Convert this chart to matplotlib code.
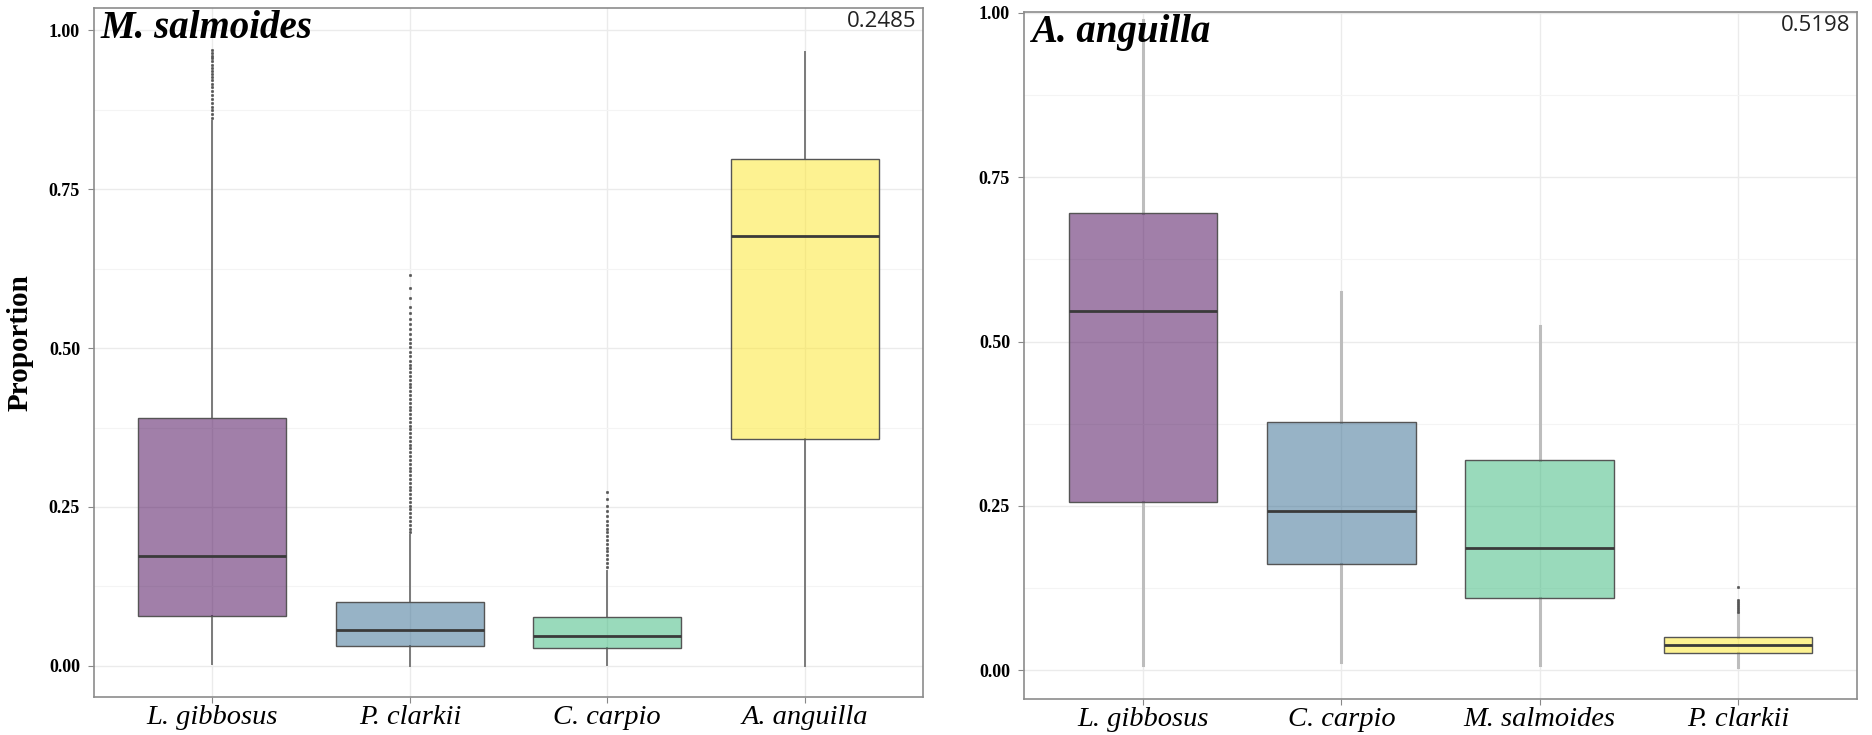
import matplotlib
matplotlib.use("Agg")
import matplotlib.pyplot as plt
from matplotlib.colors import to_rgba
from matplotlib.ticker import FixedLocator

# ---------------- data ----------------
left_title = "M. salmoides"
left_stat = "0.2485"
left_cats = ["L. gibbosus", "P. clarkii", "C. carpio", "A. anguilla"]
left_q1 = [0.079, 0.031, 0.028, 0.357]
left_med = [0.173, 0.056, 0.047, 0.676]
left_q3 = [0.390, 0.101, 0.077, 0.797]
left_lo = [0.003, 0.000, 0.002, 0.000]
left_hi = [0.857, 0.206, 0.150, 0.965]
left_out_gibbosus = [0.862, 0.868, 0.874, 0.880, 0.886, 0.892, 0.898, 0.904, 0.910,
                     0.916, 0.921, 0.926, 0.931, 0.936, 0.941, 0.946, 0.951, 0.956,
                     0.960, 0.964, 0.969]
left_out_clarkii = [0.210, 0.216, 0.222, 0.228, 0.234, 0.240, 0.246, 0.252, 0.258,
                    0.264, 0.270, 0.276, 0.282, 0.288, 0.294, 0.300, 0.306, 0.312,
                    0.318, 0.324, 0.330, 0.336, 0.342, 0.348, 0.354, 0.360, 0.366,
                    0.372, 0.378, 0.384, 0.390, 0.396, 0.402, 0.408, 0.414, 0.420,
                    0.426, 0.432, 0.438, 0.444, 0.450, 0.456, 0.462, 0.468, 0.474,
                    0.480, 0.487, 0.494, 0.501, 0.508, 0.515, 0.522, 0.530, 0.538,
                    0.546, 0.555, 0.565, 0.578, 0.595, 0.615]
left_out_carpio = [0.156, 0.162, 0.168, 0.174, 0.180, 0.186, 0.192, 0.198, 0.204,
                   0.210, 0.216, 0.222, 0.228, 0.236, 0.244, 0.252, 0.262, 0.274]
left_out_anguilla = []

right_title = "A. anguilla"
right_stat = "0.5198"
right_cats = ["L. gibbosus", "C. carpio", "M. salmoides", "P. clarkii"]
right_q1 = [0.256, 0.162, 0.109, 0.026]
right_med = [0.547, 0.242, 0.186, 0.038]
right_q3 = [0.696, 0.378, 0.320, 0.050]
right_lo = [0.007, 0.012, 0.008, 0.005]
right_hi = [0.990, 0.576, 0.524, 0.087]
right_out_gibbosus = []
right_out_carpio = []
right_out_salmoides = []
right_out_clarkii = [0.089, 0.092, 0.095, 0.098, 0.101, 0.104, 0.107, 0.126]

y_ticks = [0.00, 0.25, 0.50, 0.75, 1.00]
y_ticklabels = ["0.00", "0.25", "0.50", "0.75", "1.00"]
fill_colors = ["#440154", "#31688E", "#35B779", "#FDE725"]

# ---------------- figure ----------------
W, H = 1872, 735
fig = plt.figure(figsize=(W / 100, H / 100), dpi=100)

serif = ["Liberation Serif", "DejaVu Serif"]
sans = ["Open Sans", "DejaVu Sans"]


def px_axes(l, t, r, b):
    return fig.add_axes([l / W, 1 - b / H, (r - l) / W, (b - t) / H])


def draw_panel(ax, cats, q1, med, q3, lo, hi, outs, title, stat, ylim,
               whisk_color, whisk_lw, show_ylabel):
    stats = []
    for i, c in enumerate(cats):
        stats.append(dict(label=c, q1=q1[i], med=med[i], q3=q3[i],
                          whislo=lo[i], whishi=hi[i], fliers=outs[i]))
    pos = list(range(1, len(cats) + 1))
    bp = ax.bxp(stats, positions=pos, widths=0.75, patch_artist=True,
                showcaps=False, showfliers=True, zorder=3,
                boxprops=dict(edgecolor="#555555", linewidth=1.0),
                medianprops=dict(color="#3a3a3a", linewidth=2.0),
                whiskerprops=dict(color=whisk_color, linewidth=whisk_lw),
                flierprops=dict(marker="o", markersize=1.9, markerfacecolor="#555555",
                                markeredgecolor="#555555", markeredgewidth=0.3,
                                linestyle="none"))
    for patch, c in zip(bp["boxes"], fill_colors):
        patch.set_facecolor(to_rgba(c, 0.5))
    for w in bp["whiskers"]:
        w.set_zorder(2)

    ax.set_xlim(0.4, len(cats) + 0.6)
    ax.set_ylim(*ylim)
    ax.set_xticks(pos)
    ax.set_xticklabels(cats, fontfamily=serif, fontstyle="italic", fontsize=20.5)
    ax.set_yticks(y_ticks)
    ax.set_yticklabels(y_ticklabels, fontfamily=serif, fontweight="bold", fontsize=13)
    ax.yaxis.set_minor_locator(FixedLocator([0.125, 0.375, 0.625, 0.875]))
    ax.tick_params(axis="both", which="major", color="#888888", length=4, width=0.8)
    ax.tick_params(axis="y", which="minor", length=0)
    ax.tick_params(axis="x", pad=2)
    ax.tick_params(axis="y", pad=6)
    ax.grid(True, which="major", color="#EBEBEB", linewidth=1.0, zorder=0)
    ax.grid(True, which="minor", axis="y", color="#F4F4F4", linewidth=0.8, zorder=0)
    ax.set_axisbelow(True)
    for s in ax.spines.values():
        s.set_color("#8c8c8c")
        s.set_linewidth(1.2)
    ax.text(0.008, 0.997, title, transform=ax.transAxes, ha="left", va="top",
            fontfamily=serif, fontstyle="italic", fontweight="bold", fontsize=28,
            zorder=5)
    ax.text(0.992, 0.995, stat, transform=ax.transAxes, ha="right", va="top",
            fontfamily=sans, fontsize=16, color="#222222", zorder=5)
    if show_ylabel:
        ax.set_ylabel("Proportion", fontfamily=serif, fontweight="bold", fontsize=21)
        ax.yaxis.set_label_coords(-0.073, 0.514)


ax1 = px_axes(94, 8, 923, 697)
draw_panel(ax1, left_cats, left_q1, left_med, left_q3, left_lo, left_hi,
           [left_out_gibbosus, left_out_clarkii, left_out_carpio, left_out_anguilla],
           left_title, left_stat, (-0.049, 1.035), "#7a7a7a", 1.4, True)

ax2 = px_axes(1024, 12, 1857, 699)
draw_panel(ax2, right_cats, right_q1, right_med, right_q3, right_lo, right_hi,
           [right_out_gibbosus, right_out_carpio, right_out_salmoides, right_out_clarkii],
           right_title, right_stat, (-0.044, 1.0015), "#bdbdbd", 2.2, False)

fig.savefig("out.png", dpi=100, facecolor="white")
